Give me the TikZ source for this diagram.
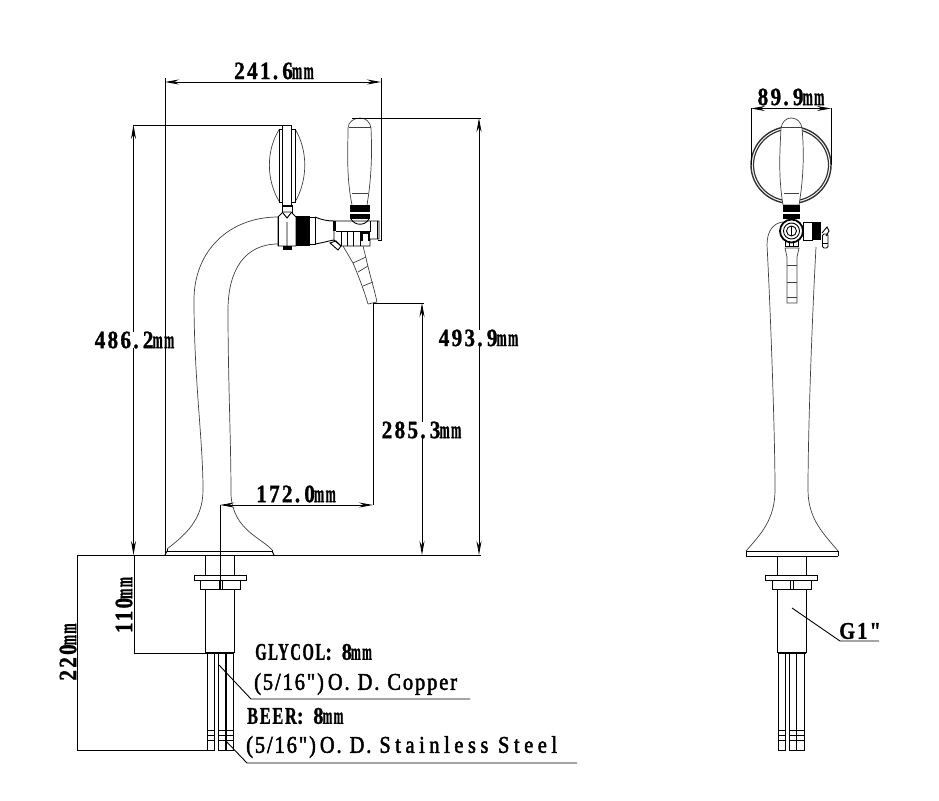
\documentclass[tikz,border=0pt]{standalone}
\usepackage{fontspec}
\setmainfont{Liberation Serif}
\usetikzlibrary{arrows.meta}
\newfontfamily\dimfont[LetterSpace=9,FakeStretch=0.85,BoldFeatures={FakeBold=1}]{Liberation Serif}
\newfontfamily\notefont[LetterSpace=8,FakeStretch=0.85,FakeBold=2]{Liberation Serif}
\newfontfamily\widefont[LetterSpace=19,FakeStretch=0.85,FakeBold=2]{Liberation Serif}
\newcommand{\mmu}{\hspace{-1pt}\scalebox{0.58}[1]{mm}}
\tikzset{
    part/.style={draw=black,line width=0.9pt},
    thin part/.style={draw=black!75,line width=0.7pt},
    dim/.style={draw=black,line width=0.9pt},
    dim arrow/.style={dim,{Stealth[length=14pt,width=5pt]}-{Stealth[length=14pt,width=5pt]}},
    dim label/.style={font=\dimfont\bfseries\fontsize{25}{25}\selectfont,inner sep=0pt,fill=white},
    note label/.style={font=\notefont\fontsize{24}{24}\selectfont,inner sep=0pt,anchor=west},
    head label/.style={note label,font=\dimfont\bfseries\fontsize{24}{24}\selectfont}
}
\begin{document}
\begin{tikzpicture}[x=1pt,y=-1pt]
    \useasboundingbox (0,0) rectangle (939,800);
    %%%%% THE FRONT VIEW
    \begin{scope}
      % stand
      \draw[thin part] (278,217) .. controls (230,217) and (194,250) .. (194,300)
        .. controls (194,380) and (203,440) .. (203,490)
        .. controls (203,520) and (185,535) .. (167,549);
      \draw[thin part] (278,244) .. controls (245,244) and (228,270) .. (228,310)
        .. controls (228,380) and (231,440) .. (231,495)
        .. controls (233,530) and (262,538) .. (272,550);
      \draw[part] (167,549) -- (167,551) -- (272,551) -- (272,550);
      \draw[part] (167,551) -- (165,555) (272,551) -- (274,555);
      % mounting thread and nut
      \draw[part] (205.5,555) -- (205.5,653) (234.5,555) -- (234.5,653);
      \draw[part,fill=white] (194.5,575) rectangle (246.5,580);
      \draw[part,fill=white] (200,580) rectangle (240,589);
      \draw[part] (219,580) -- (219,589) (222,580) -- (222,589);
      \draw[line width=1.5pt] (206,653) -- (234,653);
      % tubes
      \foreach \tubeL/\tubeR in {207.5/214.5,218.5/226,226/233}{
        \draw[part] (\tubeL,653) -- (\tubeL,750) -- (\tubeR,750) -- (\tubeR,653);
        \foreach \bandY in {730,735,740}
          \draw[part] (\tubeL,\bandY) -- (\tubeR,\bandY);
      }
      \draw[line width=1.4pt] (226,653) -- (226,750);
      % badge
      \draw[thin part] (279.5,129) .. controls (266,150) and (266,180) .. (279.5,202);
      \draw[thin part] (295,129) .. controls (308,150) and (308,180) .. (295,202);
      \draw[part] (279.5,129) rectangle (295,202);
      \draw[part,fill=white] (282,125) rectangle (291.5,205);
      \draw[part] (282,205) -- (282,213) (292,205) -- (292,213);
      \draw[line width=1.4pt] (282,206) -- (292,206);
      % collar and valve
      \draw[part,fill=white] (278,217) -- (283,212) -- (291,212) -- (296,217) -- (296,246) -- (278,246) -- cycle;
      \draw[line width=1.8pt] (278.5,217) -- (278.5,246);
      \draw[part] (287,222) -- (287,246) (283,213) -- (287,218) -- (291,213);
      \fill (283,246) rectangle (292,250);
      \fill (296,216) rectangle (310,246);
      \draw[part] (310,217) -- (315,217) -- (315,244) -- (310,244);
      \draw[part] (315,217) .. controls (322,220) and (328,221) .. (334,221);
      \draw[part] (315,244) .. controls (322,243) and (328,241) .. (334,240);
      % tap body
      \draw[part] (334,221) -- (379,221) -- (379,239) -- (370,239) -- (370,246) -- (341,246) -- (334,240) -- cycle;
      \fill (333,221) rectangle (336,231);
      \draw[part] (336,231.5) -- (370,231.5) -- (370,221);
      \foreach \ribX in {341,347,353,360}
        \draw[part] (\ribX,231.5) -- (\ribX,246);
      \draw[part] (377,221) -- (377,239);
      \draw[line width=1.4pt] (362,241) -- (362,233) -- (369,233) -- (369,241);
      % lever
      \draw[part] (330,243) -- (336,241) -- (341,246) -- (338,250) -- cycle;
      % spout
      \draw[thin part] (343,246) -- (353,263) .. controls (358,275) and (364,290) .. (368,304);
      \draw[thin part] (363,246) -- (366,258) .. controls (369,272) and (374,288) .. (377,302);
      \draw[thin part] (353,263) -- (366,257) (358,272) -- (368,266) (363,286) -- (373,282) (368,304) -- (377,302);
      % handle
      \draw[thin part] (352,205) .. controls (346,175) and (348,150) .. (348,128)
        .. controls (348,122) and (354,118) .. (360,118)
        .. controls (366,118) and (370,122) .. (371,128)
        .. controls (372,150) and (372,175) .. (367,205);
      \draw[thin part] (349,127) -- (371,127) (352,193) -- (368,193);
      \fill (350,205) rectangle (370,212);
      \fill (350,213.5) rectangle (370,219);
      \draw[part] (351,219) .. controls (355,226) and (365,226) .. (369,219);
    \end{scope}
    %%%%% THE SIDE VIEW
    \begin{scope}
      % stand
      \draw[thin part] (783,222) .. controls (774,223) and (767,230) .. (767,245)
        .. controls (770,300) and (775,430) .. (775,490)
        .. controls (775,520) and (760,535) .. (746,551);
      \draw[thin part] (816,247) .. controls (812,320) and (808,430) .. (808,490)
        .. controls (808,520) and (825,535) .. (838,551);
      \draw[part] (746,551) -- (838,551) (746,551) -- (746,556) (838,551) -- (838,556);
      % mounting thread and nut
      \draw[part] (777.5,556) -- (777.5,653) (806.5,556) -- (806.5,653);
      \draw[part] (746,556) -- (838,556);
      \draw[part,fill=white] (765.5,575) rectangle (817.5,580);
      \draw[part,fill=white] (772.5,580) rectangle (811,589);
      \draw[part] (790,580) -- (790,589) (793,580) -- (793,589);
      \draw[line width=1.5pt] (778,653) -- (806,653);
      % tubes
      \foreach \tubeL/\tubeR in {778.5/785.5,789.5/796.5,796.5/804.5}{
        \draw[part] (\tubeL,653) -- (\tubeL,750) -- (\tubeR,750) -- (\tubeR,653);
        \foreach \bandY in {730,735,740}
          \draw[part] (\tubeL,\bandY) -- (\tubeR,\bandY);
      }
      \draw[line width=1.4pt] (796.5,653) -- (796.5,750);
      % ring
      \draw[line width=1.4pt,draw=black!80] (791,165) circle[x radius=40,y radius=38.5];
      \draw[line width=1.2pt,draw=black!80] (791,165) circle[x radius=37.5,y radius=36];
      % handle
      \draw[thin part,fill=white] (783,205) .. controls (778,175) and (780,150) .. (781,128)
        .. controls (782,122) and (786,118) .. (791,118)
        .. controls (797,118) and (801,122) .. (802,128)
        .. controls (804,150) and (804,175) .. (799,205) -- cycle;
      \draw[thin part] (781,127) -- (802,127) (784,193) -- (799,193);
      \fill (783,205) rectangle (800,212);
      \fill (783,213.5) rectangle (800,219);
      % spout
      \draw[thin part,fill=white] (785,248) -- (787,257) -- (787,303) -- (797,303) -- (797,257) -- (799,248) -- cycle;
      \draw[thin part] (787,265) -- (797,265) (787,282) -- (797,282) (787,297) -- (797,297);
      % lever block
      \draw[part,fill=white] (803,222) rectangle (812,240);
      \fill (812,222) rectangle (821,240);
      \draw[part] (822,233) -- (827,227) -- (829,231) -- (826,236);
      \draw[part,rounded corners=1.5pt] (822.5,234) rectangle (828,248);
      \draw[part] (822.5,243) -- (828,243);
      % valve body
      \draw[part,fill=white] (785,240) rectangle (798,246);
      \foreach \ribX in {789,793}
        \draw[part] (\ribX,240) -- (\ribX,246);
      \draw[line width=1.8pt,fill=white] (791.5,231) circle[radius=11.5];
      \draw[part] (791.5,231) circle[radius=8];
      \draw[part] (791.5,231) circle[radius=5];
      \draw[line width=1.4pt] (791.5,226) -- (791.5,236);
    \end{scope}
    %%%%% THE DIMENSIONS
    \draw[dim arrow] (165,82) -- (381,82);
    \draw[dim] (381,78) -- (381,240) -- (378,240);
    \draw[dim] (133,125) -- (282,125) (352,118) -- (481,118);
    \draw[dim] (77,555.5) -- (481,555.5);
    \draw[dim arrow] (133.5,125) -- (133.5,555);
    \draw[dim arrow] (479,118) -- (479,555);
    \draw[dim] (373,303) -- (424,303) (373,303) -- (373,505);
    \draw[dim arrow] (422,303) -- (422,555);
    \draw[dim arrow] (220,505) -- (373,505);
    \draw[dim] (220,505) -- (220,589);
    \draw[dim] (134,555) -- (134,653) -- (207,653);
    \draw[dim] (77,555) -- (77,750) -- (207,750);
    \draw[dim arrow] (751,108.5) -- (831,108.5);
    \draw[dim] (751,108) -- (751,165) (831,108) -- (831,165);
    \node[dim label,fill=none] (width) at (274,71) {241.\,6\mmu};
    \node[dim label] (heightL) at (134.5,340) {486.\,2\mmu};
    \node[dim label] (heightR) at (478.5,338) {493.\,9\mmu};
    \node[dim label] (spoutH) at (421.5,430) {285.\,3\mmu};
    \node[dim label,fill=none] (reach) at (296,494) {172.\,0\mmu};
    \node[dim label,rotate=90,fill=none] (shortL) at (124,605) {110\mmu};
    \node[dim label,rotate=90,fill=none] (longL) at (68,652) {220\mmu};
    \node[dim label,fill=none] (ring) at (791,97) {89.\,9\mmu};
    \draw[dim] (165,78) -- (165,555);
    %%%%% THE NOTES
    \node[head label] (glycol) at (255,652) {\scalebox{0.72}[1]{GLYCOL}: 8\mmu};
    \node[note label] (copper) at (254,684) {(5/16")\,O.\,\,D.\,\,Copper};
    \node[head label] (beer) at (247,716) {\scalebox{0.8}[1]{BEER}: 8\mmu};
    \node[note label] (steel) at (246,747) {(5/16")\,O.\,\,D.\,\,{\widefont Stainless Steel}};
    \node[head label] (thread) at (839,631) {G1"};
    \coordinate (copperEnd) at (470,699);
    \coordinate (copperKnee) at (251,699);
    \coordinate (copperTube) at (219,665);
    \coordinate (steelEnd) at (577,763);
    \coordinate (steelKnee) at (247,763);
    \coordinate (steelTube) at (225,740);
    \coordinate (threadEnd) at (879,641);
    \coordinate (threadKnee) at (840,641);
    \coordinate (threadBody) at (792,608);
    \draw[dim] (copperTube) -- (copperKnee) -- (copperEnd);
    \draw[dim] (steelTube) -- (steelKnee) -- (steelEnd);
    \draw[dim] (threadBody) -- (threadKnee) -- (threadEnd);
\end{tikzpicture}
\end{document}
